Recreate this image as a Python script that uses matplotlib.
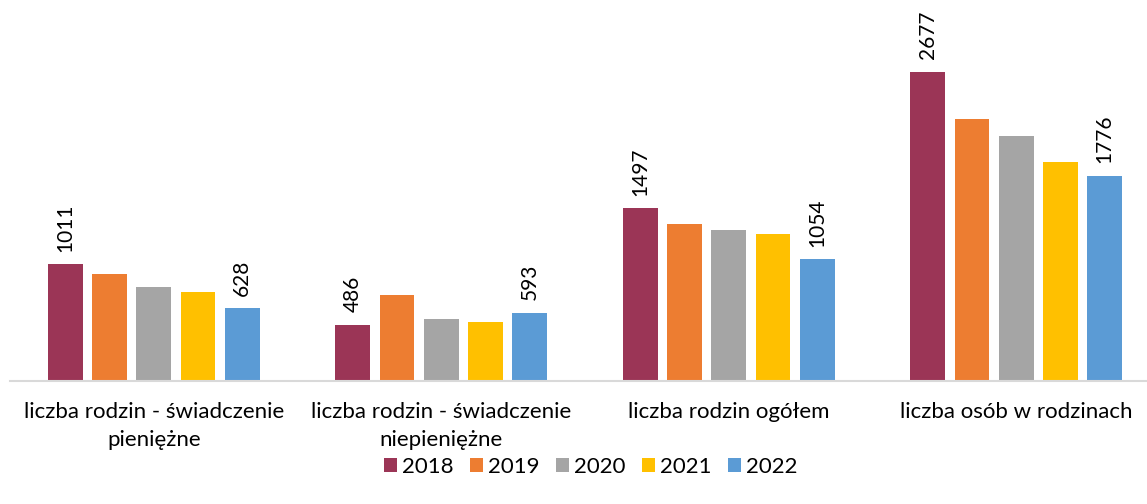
import matplotlib
matplotlib.use("Agg")
import matplotlib.pyplot as plt
import numpy as np

plt.rcParams['font.family'] = ['Lato', 'DejaVu Sans']

categories = ["liczba rodzin - świadczenie\npieniężne",
              "liczba rodzin - świadczenie\nniepieniężne",
              "liczba rodzin ogółem",
              "liczba osób w rodzinach"]
years = ["2018", "2019", "2020", "2021", "2022"]
v2018 = [1011, 486, 1497, 2677]
v2019 = [924, 742, 1356, 2273]
v2020 = [817, 539, 1304, 2123]
v2021 = [768, 507, 1272, 1895]
v2022 = [628, 593, 1054, 1776]
series = [v2018, v2019, v2020, v2021, v2022]
colors = ["#9B3556", "#ED7D31", "#A5A5A5", "#FFC000", "#5B9BD5"]

W, H = 1147, 504
fig = plt.figure(figsize=(W/100, H/100), dpi=100)
ax = fig.add_axes([10/W, 123/H, 1137/W, 381/H])

x = np.arange(len(categories))
step = 44.2/287.5
bw = 34.8/287.5
for i, (vals, c, yr) in enumerate(zip(series, colors, years)):
    pos = x + (i-2)*step
    bars = ax.bar(pos, vals, width=bw, color=c, label=yr, zorder=2)
    if i in (0, 4):
        for b, v in zip(bars, vals):
            ax.annotate(str(v), (b.get_x()+b.get_width()/2, v), xytext=(0, 9),
                        textcoords="offset points", rotation=90, ha="center", va="bottom",
                        fontsize=15, color="#000000")

ax.set_xlim(-0.5, -0.5 + 1137/287.5)
ax.set_ylim(0, 3300)
for s in ["top", "right", "left"]:
    ax.spines[s].set_visible(False)
ax.spines["bottom"].set_color("#D9D9D9")
ax.spines["bottom"].set_linewidth(1.5)
ax.set_yticks([])
ax.set_xticks(x)
ax.set_xticklabels(categories, fontsize=16, color="#000000", linespacing=1.5)
ax.tick_params(axis="x", length=0, pad=15)

fig.legend(loc="center", bbox_to_anchor=(591/W, 1-467/H), ncol=5, frameon=False,
           fontsize=16, handlelength=0.55, handleheight=0.55, handletextpad=0.25,
           columnspacing=0.75)

fig.savefig("out.png", dpi=100)
